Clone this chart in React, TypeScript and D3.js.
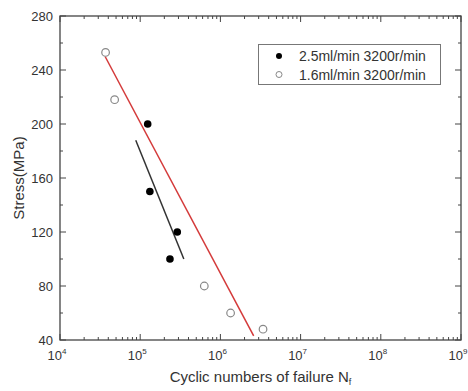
import { useRef, useEffect } from 'react'
import * as d3 from 'd3'

// 2.5ml/min 3200r/min (filled)
const filledCycles = [1.24e5, 1.32e5, 2.9e5, 2.35e5]
const filledStress = [200, 150, 120, 100]

// 1.6ml/min 3200r/min (open)
const openCycles = [3.7e4, 4.8e4, 6.3e5, 1.34e6, 3.4e6]
const openStress = [253, 218, 80, 60, 48]

// fitted lines
const redFitCycles = [3.65e4, 2.6e6]
const redFitStress = [250, 43]
const blackFitCycles = [8.8e4, 3.5e5]
const blackFitStress = [188, 100]

const xExponents = [4, 5, 6, 7, 8, 9]
const yTicks = [40, 80, 120, 160, 200, 240, 280]
const legendLabels = ['2.5ml/min 3200r/min', '1.6ml/min 3200r/min']

function App() {
  const ref = useRef<SVGSVGElement>(null)

  useEffect(() => {
    if (!ref.current) return
    const svg = d3.select(ref.current)
    svg.selectAll('*').remove()

    const margin = { top: 16, right: 7, bottom: 51, left: 60 }
    const width = 468
    const height = 391
    const font = 'Liberation Sans, Arial, sans-serif'
    const axisColor = '#444'
    const textColor = '#333'

    const x = d3.scaleLog().domain([1e4, 1e9]).range([margin.left, width - margin.right])
    const y = d3.scaleLinear().domain([40, 280]).range([height - margin.bottom, margin.top])
    const [x0, x1] = x.range()
    const [y0, y1] = y.range()

    // minor/major ticks on log axis
    const logTicks: { v: number; major: boolean }[] = []
    for (let e = 4; e < 9; e++) {
      for (let m = 1; m < 10; m++) logTicks.push({ v: m * Math.pow(10, e), major: m === 1 })
    }
    logTicks.push({ v: 1e9, major: true })

    const yMinor = d3.range(40, 281, 20)

    const ticks = svg.append('g').attr('stroke', axisColor).attr('stroke-width', 1)
    logTicks.forEach(t => {
      const len = t.major ? 6 : 3
      ticks.append('line').attr('x1', x(t.v)).attr('x2', x(t.v)).attr('y1', y0).attr('y2', y0 - len)
      ticks.append('line').attr('x1', x(t.v)).attr('x2', x(t.v)).attr('y1', y1).attr('y2', y1 + len)
    })
    yMinor.forEach(v => {
      const len = yTicks.includes(v) ? 6 : 3
      ticks.append('line').attr('x1', x0).attr('x2', x0 + len).attr('y1', y(v)).attr('y2', y(v))
      ticks.append('line').attr('x1', x1).attr('x2', x1 - len).attr('y1', y(v)).attr('y2', y(v))
    })

    // frame
    svg.append('rect')
      .attr('x', x0).attr('y', y1)
      .attr('width', x1 - x0).attr('height', y0 - y1)
      .attr('fill', 'none').attr('stroke', axisColor).attr('stroke-width', 1.3)

    // y tick labels
    svg.append('g').selectAll('text')
      .data(yTicks)
      .enter()
      .append('text')
      .attr('x', x0 - 7)
      .attr('y', d => y(d) + 4.5)
      .attr('text-anchor', 'end')
      .attr('font-family', font)
      .attr('font-size', 13)
      .attr('fill', textColor)
      .text(d => d)

    // x tick labels 10^n
    const xl = svg.append('g')
    xExponents.forEach(e => {
      const t = xl.append('text')
        .attr('x', x(Math.pow(10, e)) - 3)
        .attr('y', y0 + 20)
        .attr('text-anchor', 'middle')
        .attr('font-family', font)
        .attr('font-size', 13)
        .attr('fill', textColor)
      t.append('tspan').text('10')
      t.append('tspan').attr('dy', -6).attr('font-size', 8).text(e)
    })

    // axis titles
    svg.append('text')
      .attr('transform', `translate(24,${(y0 + y1) / 2}) rotate(-90)`)
      .attr('text-anchor', 'middle')
      .attr('font-family', font)
      .attr('font-size', 15)
      .attr('fill', textColor)
      .text('Stress(MPa)')

    const xt = svg.append('text')
      .attr('x', (x0 + x1) / 2)
      .attr('y', 382)
      .attr('text-anchor', 'middle')
      .attr('font-family', font)
      .attr('font-size', 15)
      .attr('fill', textColor)
    xt.append('tspan').text('Cyclic numbers of failure N')
    xt.append('tspan').attr('dy', 3).attr('font-size', 9).text('f')

    // fit lines
    const line = d3.line<[number, number]>().x(d => x(d[0])).y(d => y(d[1]))
    svg.append('path')
      .attr('d', line(d3.zip(redFitCycles, redFitStress) as [number, number][]))
      .attr('stroke', '#d43a3a').attr('stroke-width', 1.5).attr('fill', 'none')
    svg.append('path')
      .attr('d', line(d3.zip(blackFitCycles, blackFitStress) as [number, number][]))
      .attr('stroke', '#333').attr('stroke-width', 1.5).attr('fill', 'none')

    // points
    svg.append('g').selectAll('circle')
      .data(d3.zip(filledCycles, filledStress))
      .enter()
      .append('circle')
      .attr('cx', d => x(d[0]))
      .attr('cy', d => y(d[1]))
      .attr('r', 3.8)
      .attr('fill', '#000')
    svg.append('g').selectAll('circle')
      .data(d3.zip(openCycles, openStress))
      .enter()
      .append('circle')
      .attr('cx', d => x(d[0]))
      .attr('cy', d => y(d[1]))
      .attr('r', 3.8)
      .attr('fill', 'white')
      .attr('stroke', '#888')
      .attr('stroke-width', 1.2)

    // legend
    const lg = svg.append('g')
    lg.append('rect')
      .attr('x', 258.5).attr('y', 44.5).attr('width', 182).attr('height', 40)
      .attr('fill', 'white').attr('stroke', '#777').attr('stroke-width', 1)
    legendLabels.forEach((lab, i) => {
      const cy = 56 + i * 18.5
      const c = lg.append('circle').attr('cx', 279).attr('cy', cy).attr('r', 3)
      if (i === 0) c.attr('fill', '#000')
      else c.attr('fill', 'white').attr('stroke', '#888').attr('stroke-width', 1)
      lg.append('text')
        .attr('x', 299).attr('y', cy + 5)
        .attr('font-family', font)
        .attr('font-size', 14)
        .attr('fill', textColor)
        .text(lab)
    })
  }, [])

  return (
    <div style={{ position: 'absolute', left: 0, top: 0 }}>
      <svg ref={ref} width={468} height={391} style={{ display: 'block', background: 'white' }} />
    </div>
  )
}

export default App
